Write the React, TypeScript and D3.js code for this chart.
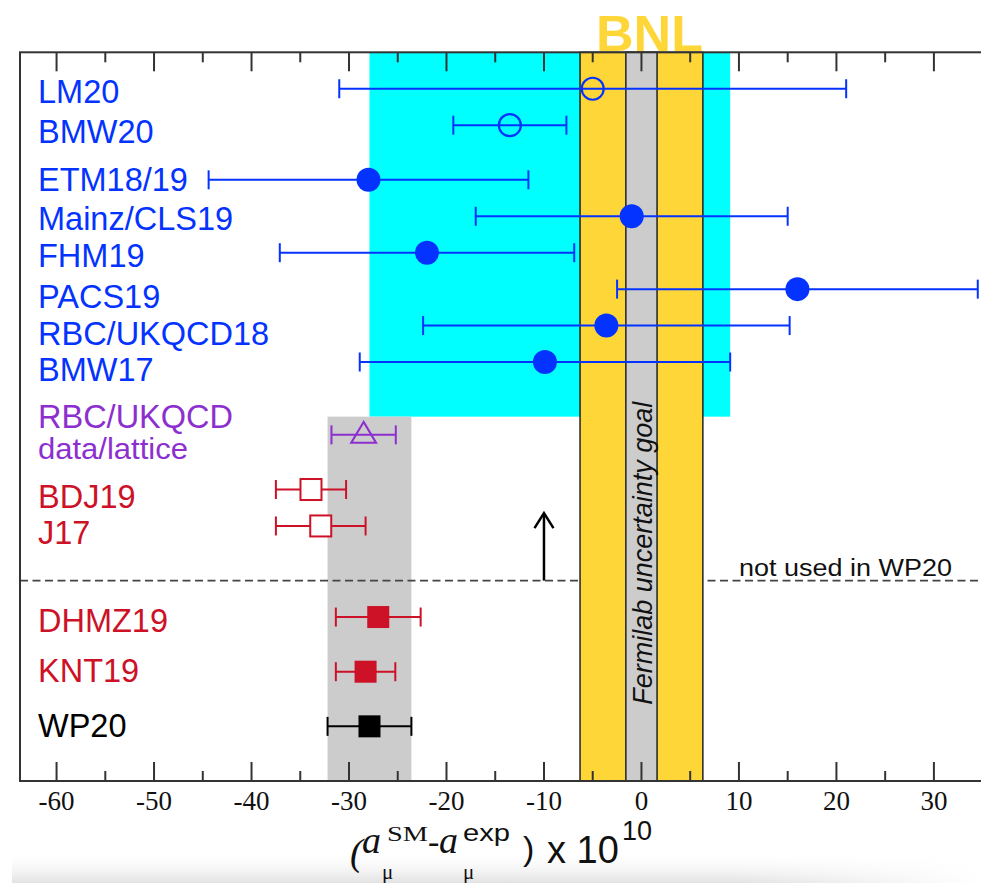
import React from "react";
import * as d3 from "d3";

const WIDTH = 981;
const HEIGHT = 883;

// results, top to bottom
const names = [
  "LM20", "BMW20", "ETM18/19", "Mainz/CLS19", "FHM19", "PACS19", "RBC/UKQCD18", "BMW17",
  "RBC/UKQCD", "BDJ19", "J17", "DHMZ19", "KNT19", "WP20",
];
const values = [-5.0, -13.5, -28.0, -1.0, -22.0, 16.0, -3.6, -9.9, -28.5, -33.9, -32.9, -27.0, -28.3, -27.9];
const errors = [26.0, 5.8, 16.4, 16.0, 15.1, 18.5, 18.8, 19.0, 3.3, 3.6, 4.6, 4.35, 3.05, 4.3];
const rows = [1, 2, 3.5, 4.5, 5.5, 6.5, 7.5, 8.5, 10.5, 12, 13, 15.5, 17, 18.5];
const kinds = [
  "latticeOpen", "latticeOpen", "lattice", "lattice", "lattice", "lattice", "lattice", "lattice",
  "ratio", "rOpen", "rOpen", "rFilled", "rFilled", "wp",
];
const subLabel = "data/lattice";

const bnlRange = [-6.3, 6.3];
const goalRange = [-1.6, 1.6];
const latticeBand = [-27.9, 9.1];
const wpBand = [-32.2, -23.6];
const cutRow = 14.5;
const arrowAt = -10;
const arrowTipRow = 12.65;

// label baseline shift from the row centre (px)
const labelShift = [14, 18, 10.7, 14, 14.7, 19, 19.3, 18.7, -7.3, 18.3, 18.3, 15, 10.6, 10.6];

const BLUE = "#0433ff";
const RED = "#cd1127";
const PURPLE = "#8d2fcf";
const YELLOW = "#ffd638";
const CYAN = "#00ffff";
const GREY = "#cccccc";
const FRAME = "#333";

const colorOf = (k: string) =>
  k.startsWith("lattice") ? BLUE : k === "ratio" ? PURPLE : k === "wp" ? "#000" : RED;

export default function App() {
  const x = d3.scaleLinear().domain([-63.75, 35.2]).range([20, 984.6]);
  const y = d3.scaleLinear().domain([0, 20]).range([52.3, 781]);
  const [top, bottom] = y.range();

  const major = x.ticks(10);
  const minor = x.ticks(20).filter((t) => t % 10 !== 0);
  const sans = "'Liberation Sans', Arial, Helvetica, sans-serif";
  const serif = "'Liberation Serif', 'Times New Roman', serif";

  const points = names.map((name, i) => {
    const v = values[i];
    const e = errors[i];
    const cy = y(rows[i]);
    const cx = x(v);
    const col = colorOf(kinds[i]);
    const k = kinds[i];
    let marker: React.ReactNode = null;
    if (k === "lattice") marker = <circle cx={cx} cy={cy} r={12} fill={col} />;
    else if (k === "latticeOpen")
      marker = <circle cx={cx} cy={cy} r={11} fill="none" stroke={col} strokeWidth={2.2} />;
    else if (k === "ratio")
      marker = (
        <path
          d={`M${cx},${cy - 13} L${cx + 12.5},${cy + 8} L${cx - 12.5},${cy + 8} Z`}
          fill="none"
          stroke={col}
          strokeWidth={2}
        />
      );
    else if (k === "rOpen")
      marker = <rect x={cx - 10.5} y={cy - 10.5} width={21} height={21} fill="#fff" stroke={col} strokeWidth={2} />;
    else marker = <rect x={cx - 11} y={cy - 11} width={22} height={22} fill={col} />;

    return (
      <g key={name}>
        <line x1={x(v - e)} x2={x(v + e)} y1={cy} y2={cy} stroke={col} strokeWidth={2} />
        <line x1={x(v - e)} x2={x(v - e)} y1={cy - 9.5} y2={cy + 9.5} stroke={col} strokeWidth={2} />
        <line x1={x(v + e)} x2={x(v + e)} y1={cy - 9.5} y2={cy + 9.5} stroke={col} strokeWidth={2} />
        {marker}
      </g>
    );
  });

  const labels = names.map((name, i) => (
    <text
      key={name}
      x={38}
      y={y(rows[i]) + labelShift[i]}
      fontFamily={sans}
      fontSize={32.5}
      fill={colorOf(kinds[i])}
    >
      {name}
    </text>
  ));
  const ratioIdx = kinds.indexOf("ratio");

  const goalMid = y((cutRow + 13) / 2);
  const arrowX = x(arrowAt);
  const arrowTip = y(arrowTipRow);

  return (
    <svg width={WIDTH} height={HEIGHT} style={{ position: "absolute", left: 0, top: 0, background: "#fff" }}>
      <defs>
        <linearGradient id="shade" x1="0" x2="0" y1="0" y2="1">
          <stop offset="0" stopColor="#fff" stopOpacity={0} />
          <stop offset="1" stopColor="#e2e2e2" stopOpacity={1} />
        </linearGradient>
        <linearGradient id="fadeX" x1="0" x2="1" y1="0" y2="0">
          <stop offset="0" stopColor="#fff" stopOpacity={1} />
          <stop offset="0.75" stopColor="#fff" stopOpacity={1} />
          <stop offset="1" stopColor="#fff" stopOpacity={0} />
        </linearGradient>
        <mask id="shadeMask">
          <rect x={12} y={850} width={969} height={33} fill="url(#fadeX)" />
        </mask>
      </defs>
      <rect x={12} y={850} width={969} height={33} fill="url(#shade)" mask="url(#shadeMask)" />

      {/* lattice average band */}
      <rect
        x={x(latticeBand[0])}
        y={top}
        width={x(latticeBand[1]) - x(latticeBand[0])}
        height={y(10) - top}
        fill={CYAN}
      />
      {/* WP20 band */}
      <rect x={x(wpBand[0])} y={y(10)} width={x(wpBand[1]) - x(wpBand[0])} height={bottom - y(10)} fill={GREY} />

      <line x1={20} x2={WIDTH} y1={y(cutRow)} y2={y(cutRow)} stroke="#444" strokeWidth={1.6} strokeDasharray="8 4.5" />

      {/* BNL and Fermilab goal */}
      <rect
        x={x(bnlRange[0])}
        y={top}
        width={x(bnlRange[1]) - x(bnlRange[0])}
        height={bottom - top}
        fill={YELLOW}
        stroke="#222"
        strokeWidth={1.5}
      />
      <rect
        x={x(goalRange[0])}
        y={top}
        width={x(goalRange[1]) - x(goalRange[0])}
        height={bottom - top}
        fill={GREY}
        stroke="#222"
        strokeWidth={1.5}
      />
      <text
        transform={`translate(${x(0) + 11},${goalMid}) rotate(-90)`}
        textAnchor="middle"
        fontFamily={sans}
        fontStyle="italic"
        fontSize={27}
        fill="#111"
      >
        Fermilab uncertainty goal
      </text>
      <text
        x={x(0) + 8}
        y={50.5}
        textAnchor="middle"
        fontFamily={sans}
        fontWeight="bold"
        fontSize={50}
        fill={YELLOW}
        textLength={107}
        lengthAdjust="spacingAndGlyphs"
      >
        BNL
      </text>

      <text
        x={x(10)}
        y={y(cutRow) - 4.5}
        fontFamily={sans}
        fontSize={23}
        fill="#111"
        textLength={213}
        lengthAdjust="spacingAndGlyphs"
      >
        not used in WP20
      </text>

      {/* arrow */}
      <line x1={arrowX} x2={arrowX} y1={y(cutRow)} y2={arrowTip + 1} stroke="#000" strokeWidth={2.5} />
      <path
        d={`M${arrowX - 9.5},${arrowTip + 15} L${arrowX},${arrowTip} L${arrowX + 9.5},${arrowTip + 15}`}
        fill="none"
        stroke="#000"
        strokeWidth={2.5}
      />

      {points}
      {labels}
      <text
        x={38}
        y={y(rows[ratioIdx]) + 24.3}
        fontFamily={sans}
        fontSize={29}
        fill={PURPLE}
        textLength={150}
        lengthAdjust="spacingAndGlyphs"
      >
        {subLabel}
      </text>

      {/* frame and ticks */}
      <rect x={20} y={top} width={x.range()[1] - 20} height={bottom - top} fill="none" stroke={FRAME} strokeWidth={2} />
      {major.map((t) => (
        <g key={`M${t}`}>
          <line x1={x(t)} x2={x(t)} y1={top} y2={top + 19} stroke={FRAME} strokeWidth={2} />
          <line x1={x(t)} x2={x(t)} y1={bottom} y2={bottom - 19} stroke={FRAME} strokeWidth={2} />
          <text x={x(t)} y={810} textAnchor="middle" fontFamily={serif} fontSize={27} fill="#111">
            {t}
          </text>
        </g>
      ))}
      {minor.map((t) => (
        <g key={`m${t}`}>
          <line x1={x(t)} x2={x(t)} y1={top} y2={top + 10} stroke={FRAME} strokeWidth={2} />
          <line x1={x(t)} x2={x(t)} y1={bottom} y2={bottom - 10} stroke={FRAME} strokeWidth={2} />
        </g>
      ))}

      {/* axis title */}
      <g fill="#111">
        <text x={350} y={865} fontFamily={serif} fontStyle="italic" fontSize={38}>(</text>
        <text x={362} y={853} fontFamily={serif} fontStyle="italic" fontSize={38}>a</text>
        <text x={387} y={840.5} fontFamily={serif} fontSize={20} textLength={41} lengthAdjust="spacingAndGlyphs">SM</text>
        <text x={382} y={879} fontFamily={serif} fontSize={21}>μ</text>
        <text x={428} y={853} fontFamily={serif} fontSize={34}>-</text>
        <text x={439} y={853} fontFamily={serif} fontStyle="italic" fontSize={38}>a</text>
        <text x={463} y={840.5} fontFamily={sans} fontSize={24} textLength={47} lengthAdjust="spacingAndGlyphs">exp</text>
        <text x={463} y={879} fontFamily={serif} fontSize={21}>μ</text>
        <text x={523} y={860} fontFamily={sans} fontSize={34}>)</text>
        <text x={547} y={863} fontFamily={sans} fontSize={38}>x 10</text>
        <text x={622} y={840} fontFamily={sans} fontSize={27}>10</text>
      </g>
    </svg>
  );
}
